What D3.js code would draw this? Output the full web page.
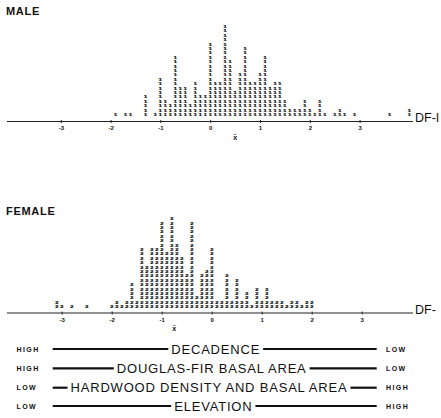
<!DOCTYPE html>
<html>
<head>
<meta charset="utf-8">
<script src="https://cdn.jsdelivr.net/npm/d3@7"></script>
<style>
  body { margin: 0; background: #fff; }
  svg { display: block; }
  text { font-family: "Liberation Sans", Arial, sans-serif; fill: #111; }
</style>
</head>
<body>
<div id="chart"></div>
<script>
// discriminant scores, one stacked column of digits per 0.1 step
var maleDF = [-1.9, -1.7, -1.6, -1.3, -1.1,
  -1.0, -0.9, -0.8, -0.7, -0.6, -0.5, -0.4, -0.3, -0.2, -0.1,
  0.0, 0.1, 0.2, 0.3, 0.4, 0.5, 0.6, 0.7, 0.8, 0.9,
  1.0, 1.1, 1.2, 1.3, 1.4, 1.5, 1.6, 1.7, 1.8, 1.9,
  2.0, 2.1, 2.2, 2.3, 2.5, 2.6, 2.7, 2.9, 3.6, 4.0];
var maleCount = [1, 1, 1, 5, 1,
  9, 4, 3, 14, 7, 7, 3, 8, 5, 5,
  17, 8, 8, 21, 13, 6, 10, 16, 8, 8,
  10, 14, 7, 8, 8, 4, 2, 2, 2, 4,
  2, 1, 4, 1, 1, 2, 1, 1, 1, 2];

var femaleDF = [-3.1, -3.0, -2.8, -2.5, -2.0, -1.9, -1.8, -1.7, -1.6, -1.5,
  -1.4, -1.3, -1.2, -1.1, -1.0, -0.9, -0.8, -0.7, -0.6, -0.5,
  -0.4, -0.3, -0.2, -0.1, 0.0, 0.1, 0.2, 0.3, 0.4, 0.5,
  0.6, 0.7, 0.8, 0.9, 1.0, 1.1, 1.2, 1.3, 1.4, 1.5,
  1.6, 1.7, 1.8, 1.9, 2.0];
var femaleCount = [2, 1, 1, 1, 1, 2, 1, 2, 6, 2,
  14, 10, 14, 14, 20, 13, 21, 15, 12, 8,
  20, 3, 8, 9, 14, 2, 2, 8, 2, 7,
  2, 4, 1, 5, 2, 5, 2, 2, 2, 1,
  2, 2, 1, 2, 2];

var maleMean = 0.5;
var femaleMean = -0.75;

var tickValues = [-3, -2, -1, 0, 1, 2, 3];

var legendLabels = ["DECADENCE", "DOUGLAS-FIR BASAL AREA", "HARDWOOD DENSITY AND BASAL AREA", "ELEVATION"];
var legendLeft = ["HIGH", "HIGH", "LOW", "LOW"];
var legendRight = ["LOW", "LOW", "HIGH", "HIGH"];

var svgWidth = 441;
var svgHeight = 418;
var rowStep = 4.4;

var svg = d3.select("#chart")
  .append("svg")
  .attr("width", svgWidth)
  .attr("height", svgHeight);

svg.append("rect")
  .attr("width", svgWidth)
  .attr("height", svgHeight)
  .attr("fill", "#fff");

// one panel = title, digit columns, axis, mean marker
function drawPanel(opts) {
  var x = d3.scaleLinear().domain([-3, 3]).range(opts.range);
  var y = d3.scaleLinear().domain([0, 1]).range([opts.base, opts.base - rowStep]);

  svg.append("text")
    .attr("x", 6)
    .attr("y", opts.titleY)
    .attr("font-size", "11px")
    .attr("font-weight", "900")
    .attr("letter-spacing", "0.7")
    .text(opts.title);

  var cells = [];
  opts.df.forEach(function(d, i) {
    d3.range(opts.count[i]).forEach(k => cells.push({ df: d, row: k }));
  });

  // small digits, kept short enough that stacked rows don't touch
  svg.append("g")
    .selectAll("text")
    .data(cells)
    .enter()
    .append("text")
    .attr("transform", d => `translate(${x(d.df)}, ${y(d.row) + 1.4}) scale(1.45, 1)`)
    .attr("text-anchor", "middle")
    .attr("font-size", "3.85px")
    .attr("font-weight", "bold")
    .attr("stroke", "#111")
    .attr("stroke-width", 0.25)
    .text(opts.glyph);

  // long base line
  svg.append("line")
    .attr("x1", 7)
    .attr("x2", 413)
    .attr("y1", opts.axisY)
    .attr("y2", opts.axisY)
    .attr("stroke", "#222")
    .attr("stroke-width", 1.2);

  var axis = d3.axisBottom(x)
    .tickValues(tickValues)
    .tickSize(3)
    .tickPadding(3)
    .tickFormat(d => String(d));

  var g = svg.append("g")
    .attr("transform", `translate(0, ${opts.axisY - 1.5})`)
    .call(axis);
  g.select(".domain").remove();
  g.selectAll(".tick line").attr("stroke", "#222").attr("stroke-width", 1);
  g.selectAll(".tick text")
    .attr("font-size", "6px")
    .attr("font-weight", "bold")
    .attr("font-family", "Liberation Sans, Arial, sans-serif")
    .attr("fill", "#111");

  svg.append("text")
    .attr("x", x(opts.mean))
    .attr("y", opts.axisY + 18)
    .attr("text-anchor", "middle")
    .attr("font-size", "7px")
    .attr("font-weight", "bold")
    .text("x\u0304");

  svg.append("text")
    .attr("x", 415)
    .attr("y", opts.axisY + 0.5)
    .attr("font-size", "12.5px")
    .text(opts.label);
}

drawPanel({
  title: "MALE", titleY: 15, df: maleDF, count: maleCount, glyph: "1",
  range: [60.8, 359.6], base: 114.5, axisY: 121.5, mean: maleMean, label: "DF-I"
});

drawPanel({
  title: "FEMALE", titleY: 215, df: femaleDF, count: femaleCount, glyph: "2",
  range: [61.7, 361.7], base: 306.8, axisY: 313, mean: femaleMean, label: "DF-"
});

// gradient legend rows
var rowY = [349, 368.3, 387.7, 406];
var rowCenter = [215.7, 211.7, 209, 213.3];

legendLabels.forEach(function(lab, i) {
  var cy = rowY[i];
  svg.append("text")
    .attr("x", 16.5)
    .attr("y", cy + 2.5)
    .attr("font-size", "7px")
    .attr("font-weight", "bold")
    .attr("letter-spacing", "1.4")
    .text(legendLeft[i]);

  svg.append("text")
    .attr("x", 386)
    .attr("y", cy + 2.5)
    .attr("font-size", "7px")
    .attr("font-weight", "bold")
    .attr("letter-spacing", "1.4")
    .text(legendRight[i]);

  var t = svg.append("text")
    .attr("x", rowCenter[i])
    .attr("y", cy + 4.7)
    .attr("text-anchor", "middle")
    .attr("font-size", "13px")
    .attr("letter-spacing", "0.8")
    .text(lab);

  var bb = t.node().getBBox();
  svg.append("line")
    .attr("x1", 52.7).attr("x2", bb.x - 3)
    .attr("y1", cy).attr("y2", cy)
    .attr("stroke", "#111").attr("stroke-width", 2.2);
  svg.append("line")
    .attr("x1", bb.x + bb.width + 3).attr("x2", 376.7)
    .attr("y1", cy).attr("y2", cy)
    .attr("stroke", "#111").attr("stroke-width", 2.2);
});
</script>
</body>
</html>
